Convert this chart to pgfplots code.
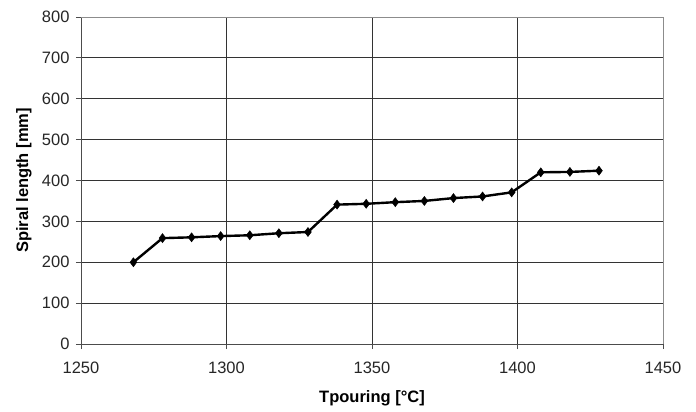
\documentclass[border=0pt]{standalone}
\usepackage{fontspec}
\setmainfont{Liberation Sans}
\usepackage{pgfplots}
\pgfplotsset{compat=1.18}
\begin{document}
\begin{tikzpicture}[x=1pt,y=1pt]
\useasboundingbox (-81pt,-68pt) rectangle (615pt,344pt);
\begin{axis}[
  at={(0pt,0pt)}, anchor=south west,
  scale only axis, width=582pt, height=327pt,
  xmin=1250, xmax=1450, ymin=0, ymax=800,
  xtick={1250,1300,...,1450}, ytick={0,100,...,800},
  grid=major,
  major grid style={line width=0.8pt, black!80},
  axis x line*=bottom, axis y line*=left,
  axis line style={line width=0.8pt, black!70, -},
  tick align=outside, major tick length=5pt,
  tick style={line width=0.8pt, black!70},
  /pgf/number format/assume math mode=true,
  /pgf/number format/set thousands separator={},
  tick label style={font=\fontsize{16.5}{18}\selectfont, text=black!85},
  xticklabel style={yshift=-9pt},
  yticklabel style={xshift=-3pt},
  xlabel={\bfseries Tpouring [°C]},
  ylabel={\bfseries Spiral length [mm]},
  label style={font=\fontsize{16.5}{18}\selectfont},
  xlabel style={at={([yshift=-54pt]axis description cs:0.5,0)}, anchor=center},
  ylabel style={at={([xshift=-57pt]axis description cs:0,0.5)}, anchor=center},
  clip=false,
]
\draw[black!45, line width=0.8pt] (rel axis cs:0,1) -- (rel axis cs:1,1) -- (rel axis cs:1,0);
\addplot[black, line width=2.4pt, mark=diamond*, mark size=4.5pt, mark options={solid, line width=0.5pt}] coordinates {
(1268,200) (1278,259) (1288,261) (1298,264) (1308,266) (1318,271) (1328,274)
(1338,341) (1348,343) (1358,347) (1368,350) (1378,357) (1388,361) (1398,371)
(1408,420) (1418,421) (1428,424)
};
\end{axis}
\end{tikzpicture}
\end{document}
